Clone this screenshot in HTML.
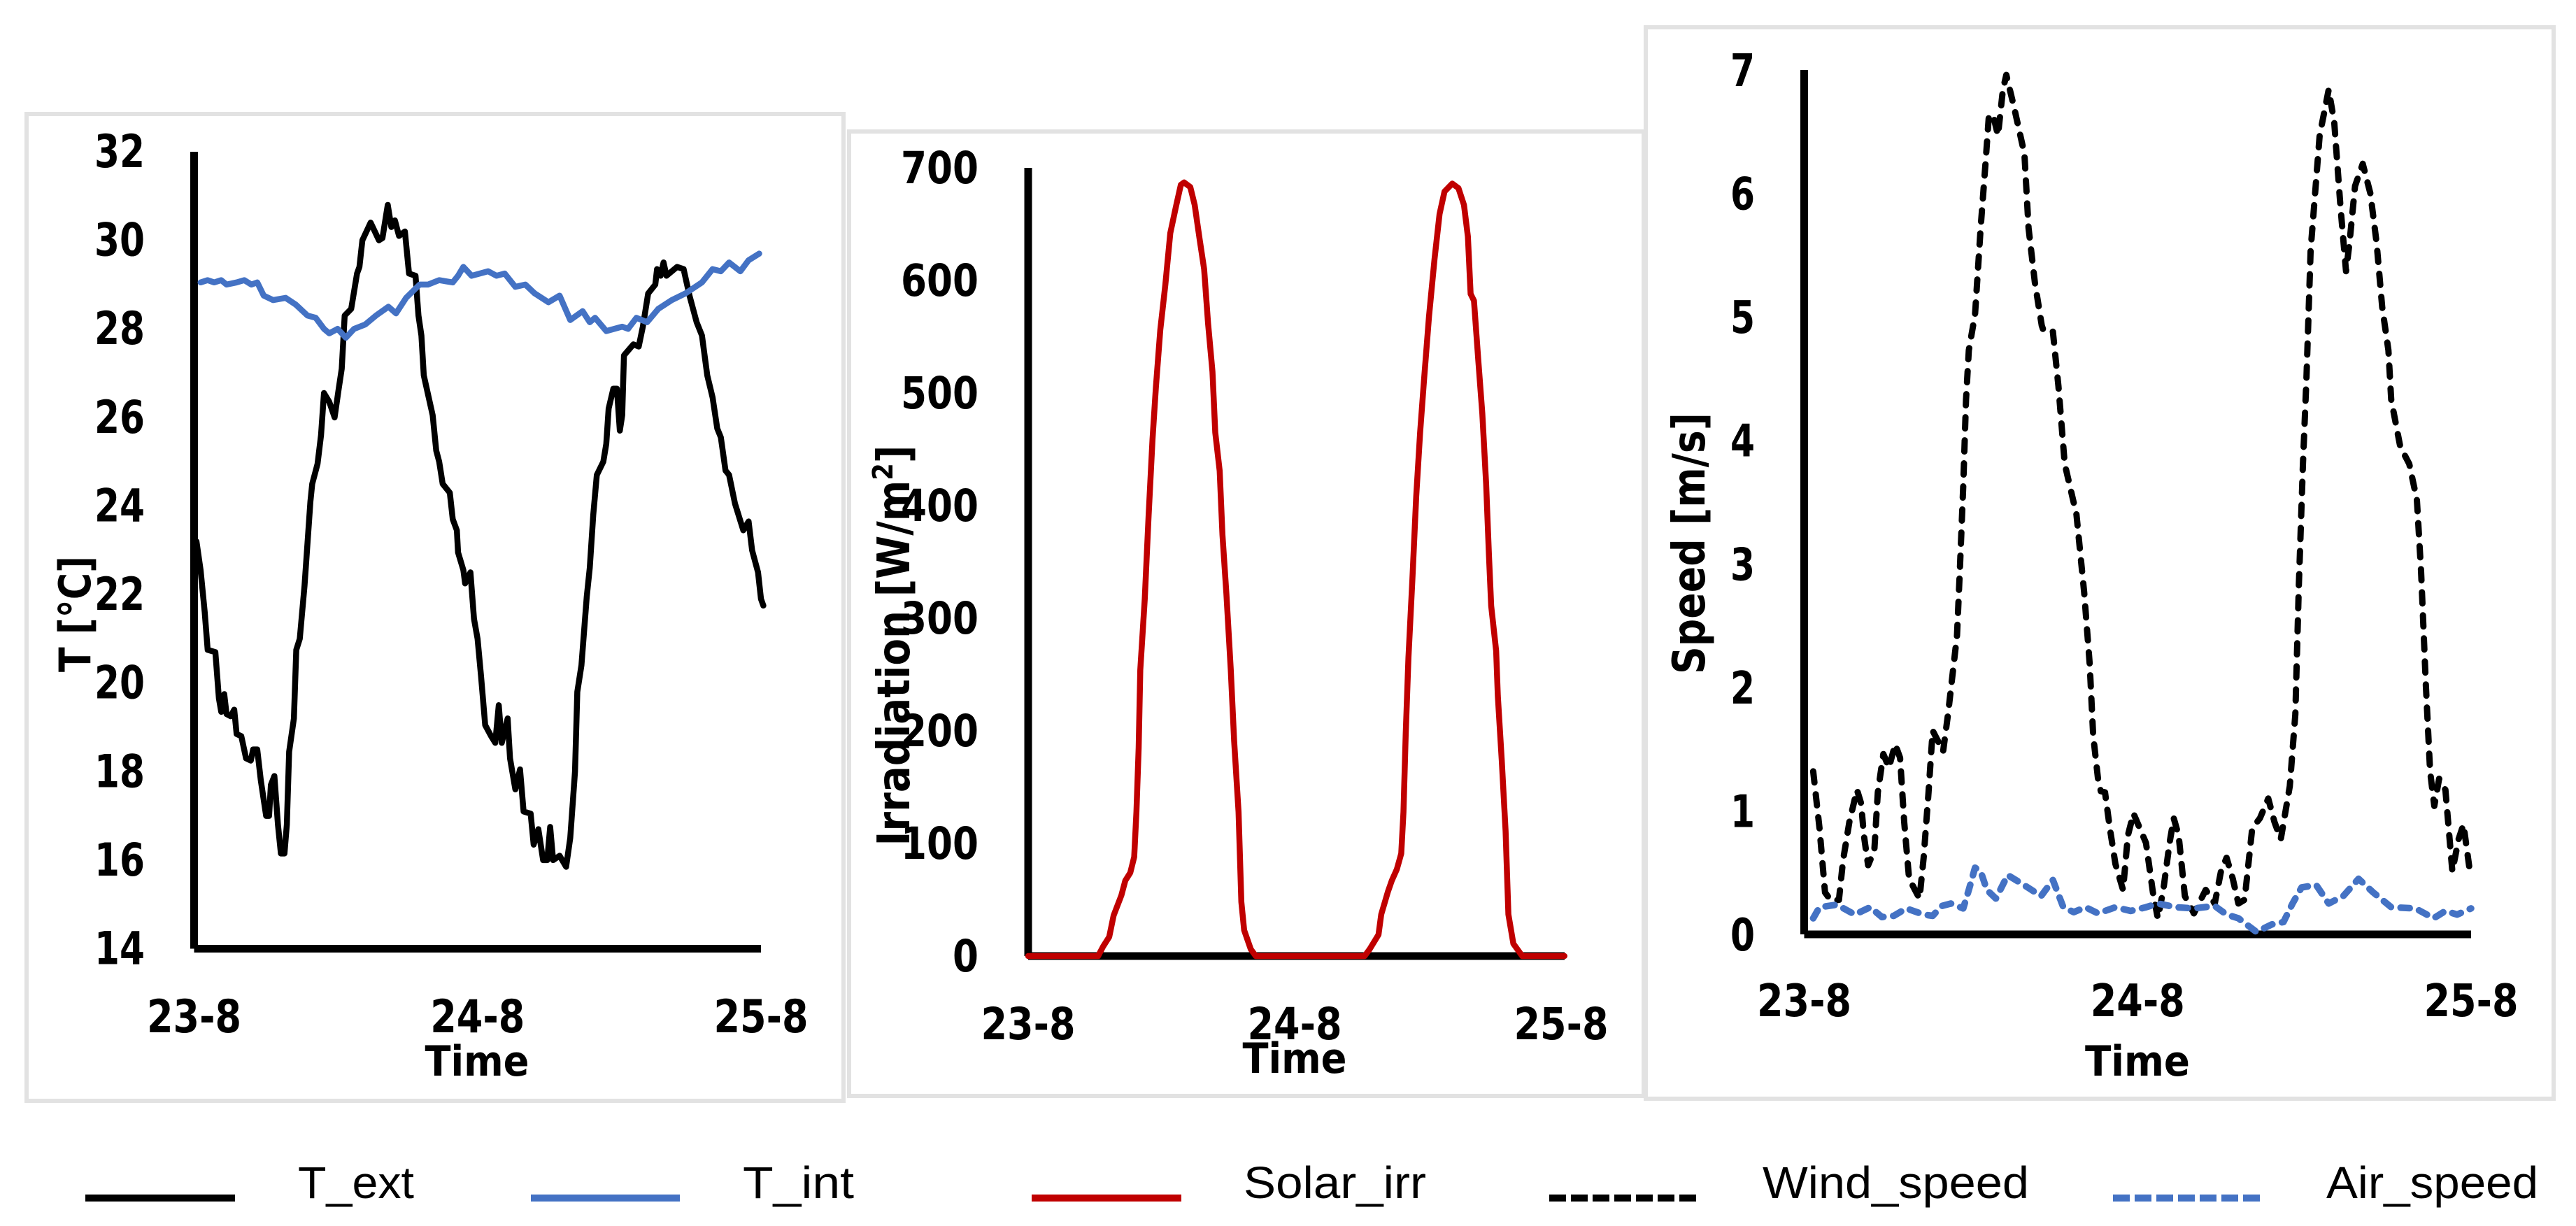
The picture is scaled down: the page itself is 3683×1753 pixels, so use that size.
<!DOCTYPE html>
<html>
<head>
<meta charset="utf-8">
<title>Temperature, irradiation and speed charts</title>
<style>
html,body{margin:0;padding:0;background:#fff;}
svg{display:block;}
text{font-family:"Liberation Sans",sans-serif;fill:#000;}
.tick{font-family:"DejaVu Sans","Liberation Sans",sans-serif;font-weight:700;}
.title{font-family:"DejaVu Sans","Liberation Sans",sans-serif;font-weight:700;}
.legend-text{font-weight:400;font-size:64px;}
</style>
</head>
<body>
<svg id="figure" xmlns="http://www.w3.org/2000/svg" width="3683" height="1753" viewBox="0 0 3683 1753">
  <rect x="0" y="0" width="3683" height="1753" fill="#fff"/>
  <rect x="38" y="163" width="1168" height="1411" fill="#fff" stroke="#e2e2e2" stroke-width="6"/>
  <rect x="1214" y="188" width="1136" height="1379" fill="#fff" stroke="#e2e2e2" stroke-width="6"/>
  <rect x="2353" y="39" width="1298" height="1532" fill="#fff" stroke="#e2e2e2" stroke-width="6"/>

  <g id="temperature-chart"></g>
  <g id="irradiation-chart"></g>
  <g id="speed-chart"></g>

  <text class="title" x="682" y="1538" font-size="60" text-anchor="middle" textLength="149" lengthAdjust="spacingAndGlyphs">Time</text>
  <text class="title" x="129" y="878" font-size="62" text-anchor="middle" transform="rotate(-90 129 878)" textLength="166" lengthAdjust="spacingAndGlyphs">T [°C]</text>
  <text class="title" x="1851" y="1534" font-size="60" text-anchor="middle" textLength="149" lengthAdjust="spacingAndGlyphs">Time</text>
  <text class="title" x="1300" y="923" font-size="64" text-anchor="middle" transform="rotate(-90 1300 923)" textLength="573" lengthAdjust="spacingAndGlyphs">Irradiation [W/m<tspan font-size="40" dy="-24">2</tspan><tspan dy="24">]</tspan></text>
  <text class="title" x="3056" y="1538" font-size="60" text-anchor="middle" textLength="150" lengthAdjust="spacingAndGlyphs">Time</text>
  <text class="title" x="2437" y="777" font-size="64" text-anchor="middle" transform="rotate(-90 2437 777)" textLength="374" lengthAdjust="spacingAndGlyphs">Speed [m/s]</text>

  <g>
    <g>
      <line x1="122" y1="1713" x2="336" y2="1713" stroke="#000" stroke-width="10"/>
      <text class="legend-text" x="426" y="1713" textLength="166" lengthAdjust="spacingAndGlyphs">T_ext</text>
    </g>
    <g>
      <line x1="759" y1="1713" x2="972" y2="1713" stroke="#4472c4" stroke-width="10"/>
      <text class="legend-text" x="1062" y="1713" textLength="159" lengthAdjust="spacingAndGlyphs">T_int</text>
    </g>
    <g>
      <line x1="1475" y1="1713" x2="1689" y2="1713" stroke="#c00000" stroke-width="10"/>
      <text class="legend-text" x="1778" y="1713" textLength="261" lengthAdjust="spacingAndGlyphs">Solar_irr</text>
    </g>
    <g>
      <line x1="2215" y1="1713" x2="2429" y2="1713" stroke="#000" stroke-width="10" stroke-dasharray="24 7"/>
      <text class="legend-text" x="2520" y="1713" textLength="381" lengthAdjust="spacingAndGlyphs">Wind_speed</text>
    </g>
    <g>
      <line x1="3021" y1="1713" x2="3235" y2="1713" stroke="#4472c4" stroke-width="10" stroke-dasharray="24 7"/>
      <text class="legend-text" x="3326" y="1713" textLength="303" lengthAdjust="spacingAndGlyphs">Air_speed</text>
    </g>
  </g>
</svg>
<script>
var dateTickHours = [0, 24, 48];
var dateTickLabels = ["23-8", "24-8", "25-8"];

var tempTicks = [14, 16, 18, 20, 22, 24, 26, 28, 30, 32];
var irrTicks = [0, 100, 200, 300, 400, 500, 600, 700];
var speedTicks = [0, 1, 2, 3, 4, 5, 6, 7];

var tExtHours = [0.2,0.55,0.9,1.15,1.8,2.1,2.3,2.55,2.75,3.1,3.4,3.6,4,4.4,4.8,5,5.35,5.65,6.1,6.35,6.5,6.8,7.1,7.35,7.65,7.85,8.05,8.45,8.65,8.95,9.35,9.85,10,10.45,10.75,11,11.45,11.9,12.25,12.5,12.75,13.3,13.8,14,14.25,14.95,15.65,15.95,16.4,16.7,17,17.35,17.85,18.2,18.75,19,19.25,19.45,20.2,20.5,20.75,21.05,21.65,21.9,22.25,22.35,22.8,22.95,23.4,23.7,24,24.3,24.65,25.15,25.5,25.8,26.05,26.55,26.75,27.2,27.6,27.9,28.5,28.75,29.15,29.55,29.9,30.15,30.4,30.95,31.5,31.85,32.25,32.45,32.8,33.25,33.5,33.8,34.1,34.65,34.9,35.1,35.5,35.8,36.05,36.25,36.4,37.2,37.65,38,38.45,39.05,39.2,39.5,39.75,40,40.9,41.45,41.95,42.55,43,43.45,43.9,44.3,44.6,45,45.3,45.8,46.5,46.95,47.25,47.75,48,48.2];
var tExtValues = [23.2,22.55,21.6,20.75,20.7,19.65,19.35,19.75,19.3,19.25,19.4,18.85,18.8,18.3,18.25,18.5,18.5,17.8,17,17,17.7,17.9,16.8,16.15,16.15,16.8,18.45,19.2,20.75,21,22.2,24.1,24.5,24.95,25.6,26.55,26.35,26,26.65,27.1,28.3,28.45,29.25,29.4,30,30.4,30,30.05,30.8,30.3,30.45,30.1,30.2,29.25,29.2,28.3,27.85,26.95,26.05,25.25,25,24.5,24.3,23.7,23.45,22.95,22.55,22.25,22.5,21.45,21,20.15,19.05,18.8,18.65,19.5,18.65,19.2,18.3,17.6,18.05,17.1,17.05,16.35,16.7,16,16,16.75,16,16.1,15.85,16.5,18,19.8,20.4,21.95,22.6,23.8,24.7,25,25.4,26.2,26.65,26.65,25.7,26.05,27.4,27.65,27.6,28.05,28.8,29,29.35,29.2,29.5,29.2,29.4,29.35,28.75,28.15,27.85,26.95,26.45,25.75,25.55,24.8,24.7,24.05,23.45,23.65,23,22.5,21.9,21.75];

var tIntHours = [0.55,1.15,1.7,2.3,2.75,3.6,4.25,4.85,5.35,5.9,6.7,7.75,8.6,9.6,10.3,11,11.45,12.15,12.85,13.55,14.5,15.4,16.45,17.1,17.95,19.1,19.8,20.75,21.9,22.35,22.8,23.5,24.9,25.6,26.3,27.2,28.05,28.85,30,30.95,31.85,32.9,33.5,33.95,34.9,36.25,36.75,37.45,38.35,39.3,40.45,41.6,43,43.9,44.6,45.3,46.25,46.95,47.85];
var tIntValues = [29.05,29.1,29.05,29.1,29,29.05,29.1,29,29.05,28.75,28.65,28.7,28.55,28.3,28.25,28,27.9,28,27.8,28,28.1,28.3,28.5,28.35,28.7,29,29,29.1,29.05,29.2,29.4,29.2,29.3,29.2,29.25,28.95,29,28.8,28.6,28.75,28.2,28.4,28.15,28.25,27.95,28.05,28,28.25,28.15,28.45,28.65,28.8,29.05,29.35,29.3,29.5,29.3,29.55,29.7];

var solarHours = [0,6.3,6.75,7.3,7.7,8.4,8.75,9.2,9.55,9.75,9.95,10.1,10.5,10.85,11.2,11.5,11.9,12.35,12.8,13.3,13.75,14.05,14.6,15,15.45,15.85,16.2,16.6,16.85,17.25,17.5,17.85,18.25,18.55,18.95,19.2,19.45,20.05,20.5,30.3,30.75,31.55,31.8,32.4,32.75,33.2,33.6,33.8,34,34.25,34.6,34.95,35.3,35.65,36.1,36.6,37.05,37.5,38.2,38.75,39.25,39.6,39.85,40.15,40.55,40.9,41.25,41.5,41.7,42.15,42.3,42.65,43,43.25,43.7,44.5,48.3];
var solarValues = [0,0,8.5,17,36,54,67,74,88,128,185,254,317,391,459,505,556,596,642,665,685,687,683,667,636,610,562,519,465,431,374,322,254,191,128,48,23,6,0,0,6,19,37,57,67,77,91,128,197,265,334,408,465,511,568,619,659,679,686,682,667,639,588,582,528,482,419,356,311,271,231,174,111,37,11,0,0];

var windHours = [0.65,1.1,1.5,1.95,2.5,2.8,3.25,3.8,4.1,4.3,4.6,5.05,5.3,5.7,6.1,6.55,6.9,7.2,7.55,8.3,8.6,8.95,9.25,9.7,10,10.35,11,11.2,11.45,11.65,11.85,12.3,12.7,13.05,13.3,13.65,13.95,14.3,14.55,15.1,15.85,16.15,16.6,17.1,17.25,17.9,18.3,18.75,19.6,20.15,20.55,20.8,21.15,21.35,21.65,22,22.4,22.95,23.3,23.7,24.6,25.1,25.45,25.85,26.3,26.6,26.95,27.4,28.05,28.9,29.55,30,30.4,30.85,31.25,31.7,32.25,32.8,33.4,33.85,34.3,34.95,35.35,35.6,35.9,36.15,36.45,37.1,37.75,38.15,38.6,39,39.25,39.65,40.2,40.75,41.2,41.6,42.05,42.25,42.9,43.55,44.1,44.4,44.75,45.05,45.35,45.7,46.15,46.65,47.1,47.45,47.95];
var windValues = [1.32,0.86,0.34,0.27,0.28,0.6,0.91,1.17,1.06,0.8,0.56,0.68,1.15,1.46,1.35,1.54,1.43,0.91,0.45,0.29,0.62,1.15,1.65,1.55,1.48,1.78,2.42,2.94,3.63,4.33,4.73,5.02,5.72,6.24,6.64,6.61,6.47,6.84,6.96,6.7,6.32,5.72,5.28,4.93,4.88,4.88,4.44,3.81,3.4,2.77,2.19,1.61,1.26,1.16,1.15,0.86,0.57,0.36,0.8,0.98,0.74,0.34,0.13,0.36,0.74,0.94,0.8,0.31,0.17,0.36,0.25,0.51,0.62,0.45,0.25,0.28,0.86,0.94,1.1,0.91,0.77,1.2,1.78,2.82,3.81,4.5,5.54,6.47,6.84,6.58,5.89,5.37,5.6,6.06,6.24,6,5.6,5.08,4.73,4.33,3.95,3.81,3.52,2.94,2.01,1.32,1.04,1.26,1.17,0.51,0.77,0.89,0.48];

var airHours = [0.65,1.1,2.35,3.65,4.75,5.6,6.45,7.35,8.6,9.25,9.9,10.55,11.45,11.85,12.3,12.7,13.15,13.8,14.65,15.95,17.05,17.9,18.65,19.4,20.25,21.15,22.4,23.5,24.6,25.45,26.75,28.05,29.55,30.4,31.25,32.55,33.65,34.5,35.15,35.8,36.85,37.75,38.8,39.9,40.95,42.25,44,45.3,46.15,47,48];
var airValues = [0.13,0.22,0.24,0.16,0.22,0.14,0.15,0.21,0.16,0.15,0.23,0.25,0.21,0.36,0.54,0.51,0.36,0.29,0.48,0.39,0.31,0.44,0.22,0.18,0.22,0.17,0.22,0.19,0.22,0.25,0.22,0.21,0.23,0.16,0.13,0.02,0.08,0.1,0.25,0.38,0.4,0.25,0.31,0.45,0.34,0.22,0.21,0.13,0.19,0.16,0.21];

var SVG_NS = "http://www.w3.org/2000/svg";

function makeLinearScale(domainMin, domainMax, rangeMin, rangeMax) {
  return function (v) {
    return rangeMin + (v - domainMin) / (domainMax - domainMin) * (rangeMax - rangeMin);
  };
}

function svgEl(parent, tag, attrs) {
  var el = document.createElementNS(SVG_NS, tag);
  Object.keys(attrs).forEach(function (k) { el.setAttribute(k, attrs[k]); });
  parent.appendChild(el);
  return el;
}

function drawSeries(group, xs, ys, hours, values, style) {
  var pts = [];
  for (var i = 0; i < hours.length; i++) {
    pts.push(xs(hours[i]).toFixed(1) + "," + ys(values[i]).toFixed(1));
  }
  var line = svgEl(group, "polyline", {
    points: pts.join(" "),
    fill: "none",
    stroke: style.color,
    "stroke-width": style.width,
    "stroke-linejoin": "round",
    "stroke-linecap": "round"
  });
  if (style.dash) { line.setAttribute("stroke-dasharray", style.dash); }
  return line;
}

function drawAxes(group, xs, ys, cfg) {
  var yAxis = svgEl(group, "line", {
    x1: xs(0), x2: xs(0),
    y1: ys(cfg.yTicks[cfg.yTicks.length - 1]), y2: ys(cfg.yTicks[0]),
    stroke: "#000", "stroke-width": 11
  });
  
  

  var xAxis = svgEl(group, "line", {
    x1: xs(0), x2: cfg.xAxisEnd,
    y1: ys(cfg.yTicks[0]), y2: ys(cfg.yTicks[0]),
    stroke: "#000", "stroke-width": 11
  });
  
  

  cfg.yTicks.forEach(function (v) {
    var label = String(v);
    var t = svgEl(group, "text", {
      "class": "tick",
      x: cfg.yLabelRight,
      y: ys(v) + cfg.yLabelOffset,
      "font-size": cfg.tickSize,
      "text-anchor": "end",
      textLength: label.length * cfg.digitWidth,
      lengthAdjust: "spacingAndGlyphs"
    });
    t.textContent = label;
    
    
  });

  dateTickHours.forEach(function (h, i) {
    var t = svgEl(group, "text", {
      "class": "tick",
      x: xs(h),
      y: cfg.xLabelBaseline,
      "font-size": cfg.tickSize,
      "text-anchor": "middle",
      textLength: 135,
      lengthAdjust: "spacingAndGlyphs"
    });
    t.textContent = dateTickLabels[i];
    
    
  });
}

/* Temperature chart */
var tempGroup = document.getElementById("temperature-chart");
var tempX = makeLinearScale(0, 48, 277.5, 1088);
var tempY = makeLinearScale(14, 32, 1356.5, 217);
drawAxes(tempGroup, tempX, tempY, {yTicks: tempTicks, xAxisEnd: 1088, yLabelRight: 207, yLabelOffset: 22, digitWidth: 36, tickSize: 65, xLabelBaseline: 1476});
var tExtLine = drawSeries(tempGroup, tempX, tempY, tExtHours, tExtValues, {color: "#000000", width: 8.5});


var tIntLine = drawSeries(tempGroup, tempX, tempY, tIntHours, tIntValues, {color: "#4472c4", width: 8.5});



/* Irradiation chart */
var irrGroup = document.getElementById("irradiation-chart");
var irrX = makeLinearScale(0, 48, 1470, 2232);
var irrY = makeLinearScale(0, 700, 1367, 240);
drawAxes(irrGroup, irrX, irrY, {yTicks: irrTicks, xAxisEnd: 2237, yLabelRight: 1399, yLabelOffset: 22, digitWidth: 37, tickSize: 63, xLabelBaseline: 1486});
var solarLine = drawSeries(irrGroup, irrX, irrY, solarHours, solarValues, {color: "#c00000", width: 8.5});



/* Speed chart */
var speedGroup = document.getElementById("speed-chart");
var speedX = makeLinearScale(0, 48, 2579.5, 3533);
var speedY = makeLinearScale(0, 7, 1336, 100);
drawAxes(speedGroup, speedX, speedY, {yTicks: speedTicks, xAxisEnd: 3533, yLabelRight: 2509, yLabelOffset: 23, digitWidth: 35, tickSize: 64, xLabelBaseline: 1453});
var windLine = drawSeries(speedGroup, speedX, speedY, windHours, windValues, {color: "#000000", width: 9, dash: "16 17"});


var airLine = drawSeries(speedGroup, speedX, speedY, airHours, airValues, {color: "#4472c4", width: 9.5, dash: "13 14"});


</script>
</body>
</html>
